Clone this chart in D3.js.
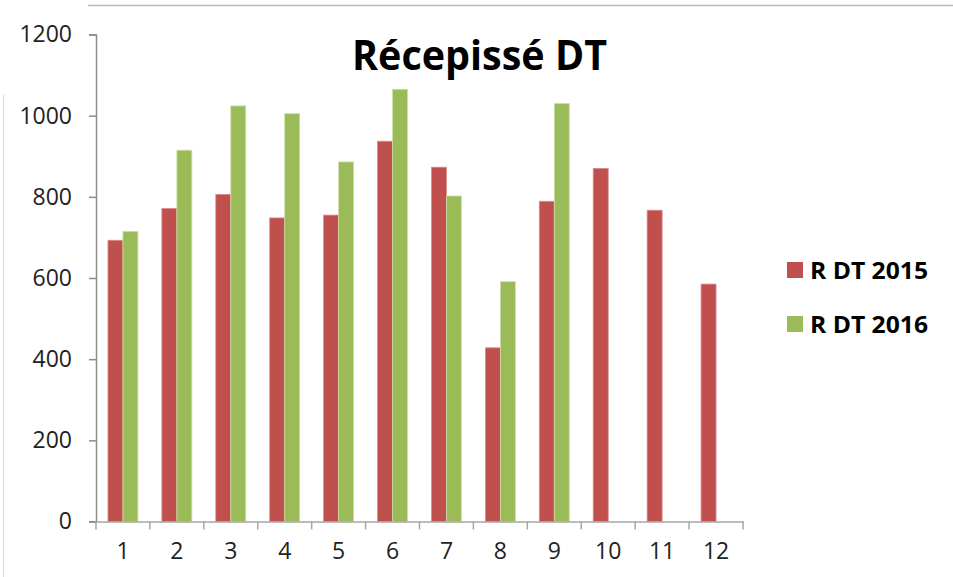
<!DOCTYPE html>
<html>
<head>
<meta charset="utf-8">
<script src="https://cdn.jsdelivr.net/npm/d3@7"></script>
<style>
  body { margin: 0; background: #fff; }
  svg { display: block; }
</style>
</head>
<body>
<svg width="953" height="577"></svg>
<script>
const RED = "#c0504d";
const GREEN = "#9bbb59";

// data
const months = ["1", "2", "3", "4", "5", "6", "7", "8", "9", "10", "11", "12"];
const rdt2015 = [693, 771, 806, 748, 755, 937, 873, 428, 789, 870, 767, 585];
const rdt2016 = [715, 915, 1024, 1005, 886, 1065, 802, 591, 1030, null, null, null];
const seriesNames = ["R DT 2015", "R DT 2016"];
const yTicks = [0, 200, 400, 600, 800, 1000, 1200];

const svg = d3.select("svg");

// frame bits from the screenshot crop
svg.append("line")
    .attr("x1", 88).attr("x2", 953).attr("y1", 5.5).attr("y2", 5.5)
    .attr("stroke", "#b8b8b8").attr("stroke-width", 1.5);
svg.append("line")
    .attr("x1", 3.5).attr("x2", 3.5).attr("y1", 95).attr("y2", 577)
    .attr("stroke", "#d8d8d8").attr("stroke-width", 1);

LEFT = 96
RIGHT = 743
ZERO = 521.5
TOP = 34.5

x = d3.scaleBand()
    .domain(months)
    .range([LEFT, RIGHT])
    .paddingInner(0)
    .paddingOuter(0);

// two bars of ~15px in a ~54px slot
xSub = d3.scaleBand()
    .domain(seriesNames)
    .range([0, x.bandwidth()])
    .paddingInner(0)
    .paddingOuter(0.8);

y = d3.scaleLinear()
    .domain([0, 1200])
    .range([ZERO, TOP]);

// bars
const rows = months.map(function(m, i) {
    return {month: m, values: [rdt2015[i], rdt2016[i]]};
});
const colors = [RED, GREEN];

groups = svg.append("g")
    .selectAll("g")
    .data(rows)
    .enter()
    .append("g")
    .attr("transform", d => "translate(" + x(d.month) + ",0)");

groups.selectAll("rect")
    .data(d => d.values.map(function(v, k) { return {v: v, k: k}; }).filter(d => d.v != null))
    .enter()
    .append("rect")
    .attr("x", d => xSub(seriesNames[d.k]))
    .attr("width", xSub.bandwidth())
    .attr("y", d => y(d.v))
    .attr("height", d => ZERO - y(d.v))
    .attr("fill", d => colors[d.k])
    .attr("stroke", d => d.k === 0 ? "#d88a88" : "#cfe0a8")
    .attr("stroke-width", 0.8);

// y axis
yAxis = svg.append("g")
    .attr("transform", "translate(" + LEFT + ",0)")
    .call(d3.axisLeft(y).tickValues(yTicks).tickSize(7).tickPadding(17).tickFormat(d3.format("d")));
yAxis.select(".domain").attr("stroke", "#8c8c8c").attr("stroke-width", 1.5);
yAxis.selectAll(".tick line").attr("stroke", "#8c8c8c").attr("stroke-width", 1.5);
yAxis.selectAll("text")
    .style("font-family", "'Open Sans', sans-serif")
    .style("font-size", "23px")
    .attr("fill", "#222");

// x axis
xAxis = svg.append("g")
    .attr("transform", "translate(0," + ZERO + ")")
    .call(d3.axisBottom(x).tickSize(0).tickPadding(21));
xAxis.select(".domain").attr("stroke", "#a6a6a6").attr("stroke-width", 1.5);
xAxis.selectAll("text")
    .style("font-family", "'Open Sans', sans-serif")
    .style("font-size", "23px")
    .attr("fill", "#222");
// ticks between categories
svg.append("g")
    .selectAll("line")
    .data(months.concat(["end"]))
    .enter()
    .append("line")
    .attr("x1", (d, i) => i < months.length ? x(d) : RIGHT)
    .attr("x2", (d, i) => i < months.length ? x(d) : RIGHT)
    .attr("y1", ZERO)
    .attr("y2", ZERO + 8)
    .attr("stroke", "#a6a6a6")
    .attr("stroke-width", 1.5);

// title
svg.append("text")
    .attr("x", 352)
    .attr("y", 70)
    .attr("textLength", 255)
    .attr("lengthAdjust", "spacingAndGlyphs")
    .style("font-family", "'Open Sans', sans-serif")
    .style("font-weight", "bold")
    .style("font-size", "41px")
    .text("Récepissé DT");

// legend
legend = svg.append("g")
    .selectAll("g")
    .data(seriesNames)
    .enter()
    .append("g")
    .attr("transform", (d, i) => "translate(787," + (262 + i * 54) + ")");
legend.append("rect")
    .attr("width", 16).attr("height", 16)
    .attr("fill", (d, i) => colors[i]);
legend.append("text")
    .attr("x", 23)
    .attr("y", 17)
    .attr("textLength", 118)
    .attr("lengthAdjust", "spacingAndGlyphs")
    .style("font-family", "'Open Sans', sans-serif")
    .style("font-weight", "bold")
    .style("font-size", "23px")
    .text(d => d);
</script>
</body>
</html>
